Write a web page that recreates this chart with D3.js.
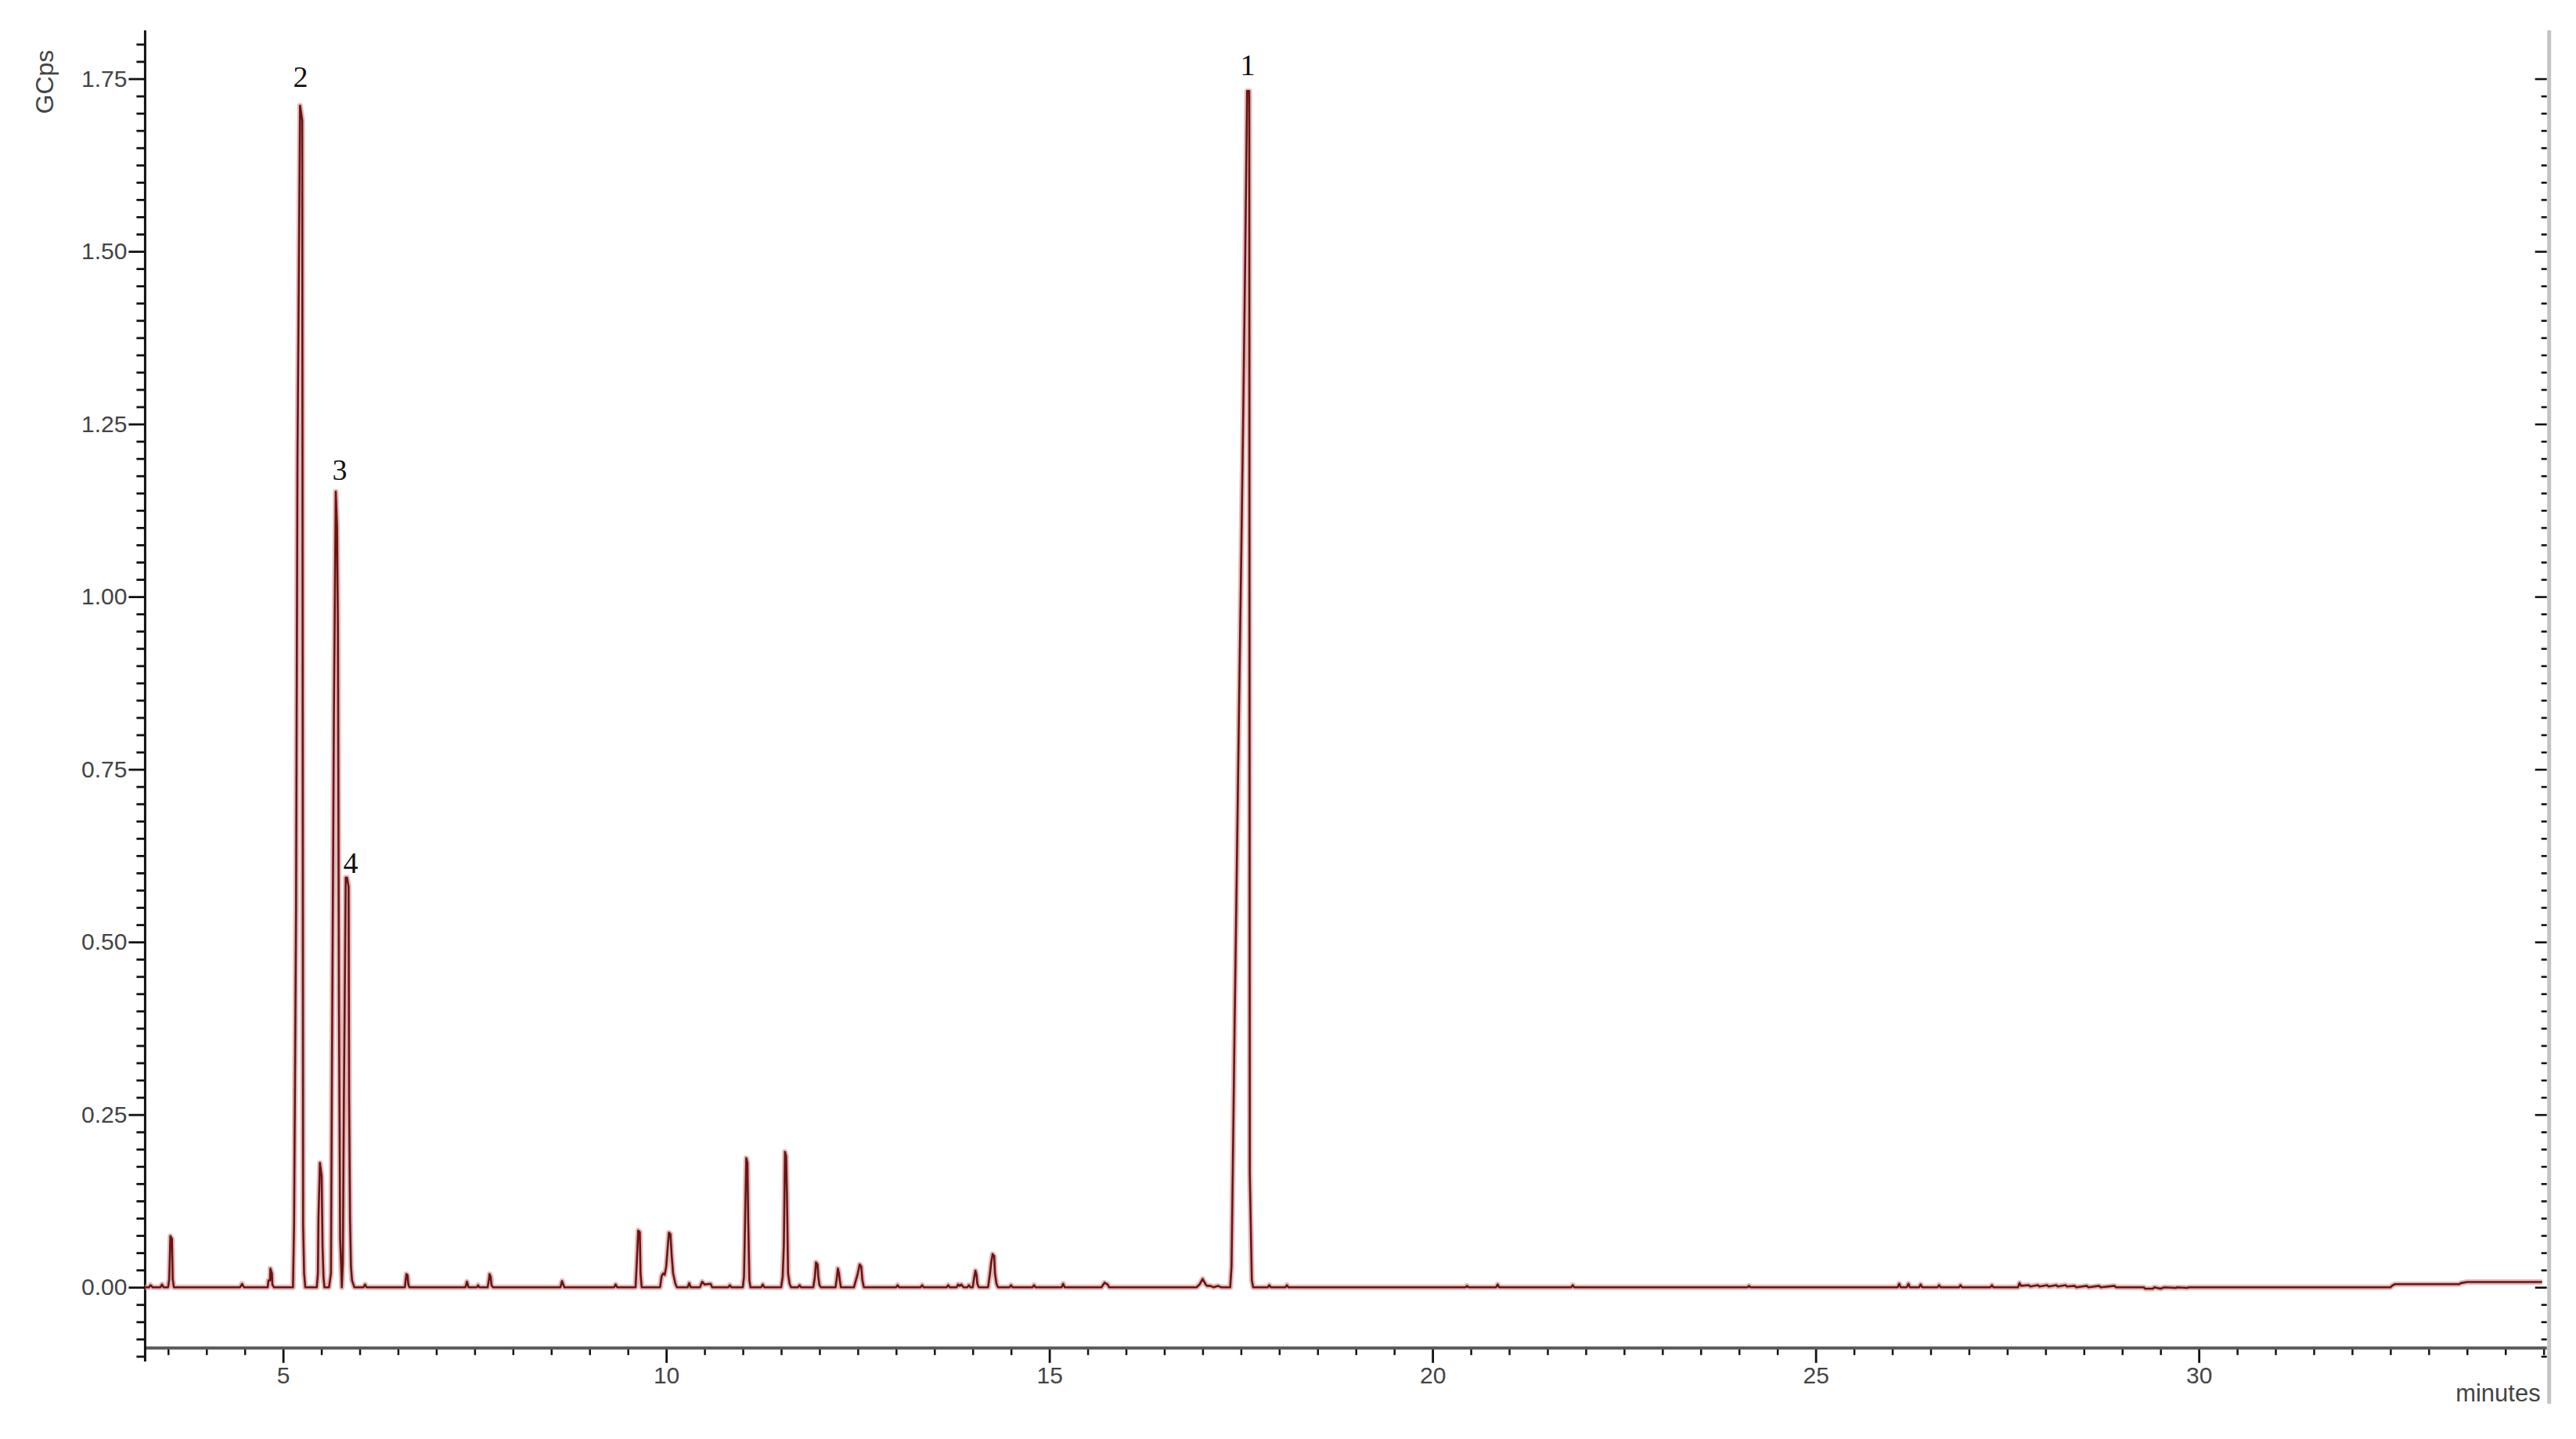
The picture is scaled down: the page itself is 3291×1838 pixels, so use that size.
<!DOCTYPE html>
<html>
<head>
<meta charset="utf-8">
<script src="https://cdn.jsdelivr.net/npm/d3@7"></script>
<style>
  html, body { margin: 0; padding: 0; background: #fff; }
  svg { display: block; }
</style>
</head>
<body>
<svg id="chart" width="3291" height="1838"></svg>
<script>
// ---------------- data ----------------
// retention time, minutes
const timeMin = [
  3.20, 3.25, 3.27, 3.30, 3.40, 3.42, 3.44,
  3.50, 3.515, 3.53, 3.55, 3.56, 3.575,
  4.44, 4.465, 4.49,
  4.80, 4.81, 4.83, 4.835, 4.855, 4.86, 4.88,
  5.13, 5.144, 5.170, 5.188, 5.222, 5.250, 5.262, 5.275, 5.29,
  5.44, 5.455, 5.462, 5.481, 5.504, 5.515, 5.528, 5.54,
  5.60, 5.625, 5.637, 5.664, 5.688, 5.705, 5.716, 5.730, 5.745, 5.755, 5.767,
  5.780, 5.794, 5.818, 5.835, 5.855, 5.862, 5.874, 5.886, 5.90, 5.93,
  6.05, 6.07, 6.09,
  6.59, 6.60, 6.61, 6.625, 6.635, 6.65,
  7.38, 7.40, 7.42, 7.53, 7.545, 7.56,
  7.67, 7.685, 7.695, 7.71, 7.72, 7.74,
  8.62, 8.64, 8.66, 8.67,
  9.32, 9.34, 9.36,
  9.60, 9.615, 9.635, 9.655, 9.665, 9.68,
  9.92, 9.94, 9.96, 9.98, 10.00, 10.035, 10.055, 10.07, 10.09, 10.12, 10.14,
  10.28, 10.30, 10.32, 10.44, 10.47, 10.50, 10.58, 10.60, 10.81, 10.83, 10.85,
  11.00, 11.015, 11.03, 11.045, 11.06, 11.07, 11.085, 11.10,
  11.24, 11.26, 11.28,
  11.50, 11.52, 11.535, 11.55, 11.565, 11.575, 11.59, 11.61, 11.63,
  11.72, 11.74, 11.76,
  11.92, 11.94, 11.955, 11.975, 11.985, 12.00, 12.02,
  12.21, 12.225, 12.24, 12.255, 12.265, 12.28,
  12.45, 12.47, 12.50, 12.525, 12.545, 12.56, 12.58,
  13.00, 13.02, 13.04, 13.32, 13.34, 13.36, 13.66, 13.68, 13.70,
  13.79, 13.81, 13.83, 13.85, 13.88, 13.93, 13.95, 13.97,
  14.00, 14.02, 14.035, 14.05, 14.06, 14.08,
  14.20, 14.225, 14.24, 14.26, 14.28, 14.29, 14.31, 14.33,
  14.48, 14.50, 14.52, 14.78, 14.80, 14.82,
  15.16, 15.18, 15.20,
  15.68, 15.72, 15.76, 15.78,
  16.92, 16.96, 17.00, 17.04, 17.06, 17.10, 17.14, 17.20, 17.24,
  17.36, 17.377, 17.394, 17.418, 17.445, 17.473, 17.503, 17.530, 17.554, 17.581, 17.608, 17.615, 17.642, 17.66,
  17.85, 17.87, 17.89, 18.08, 18.10, 18.12,
  20.43, 20.45, 20.47, 20.83, 20.85, 20.87, 21.81, 21.83, 21.85,
  24.11, 24.13, 24.15,
  26.07, 26.09, 26.11, 26.19, 26.21, 26.23, 26.35, 26.37, 26.39,
  26.59, 26.61, 26.63, 26.87, 26.89, 26.91, 27.28, 27.30, 27.32,
  27.64, 27.66, 27.68, 27.78, 27.80, 27.90, 27.92, 28.02, 28.04, 28.14, 28.16,
  28.26, 28.28, 28.38, 28.40, 28.54, 28.56, 28.70, 28.72, 28.90, 28.92,
  29.28, 29.30, 29.40, 29.42, 29.50, 29.55, 29.70, 29.72, 29.85, 29.87, 30.00,
  32.50, 32.52, 32.56, 33.40, 33.42, 33.50, 34.48
];
// detector signal, GCps
const signal = [
  0.000, 0.000, 0.003, 0.000, 0.000, 0.004, 0.000,
  0.000, 0.012, 0.074, 0.070, 0.012, 0.000,
  0.000, 0.005, 0.000,
  0.000, 0.010, 0.010, 0.027, 0.020, 0.004, 0.000,
  0.000, 0.094, 0.550, 1.198, 1.711, 1.690, 0.090, 0.020, 0.000,
  0.000, 0.020, 0.100, 0.180, 0.161, 0.060, 0.014, 0.000,
  0.000, 0.020, 0.292, 0.837, 1.152, 1.100, 0.948, 0.400, 0.070, 0.040, 0.000,
  0.035, 0.274, 0.593, 0.593, 0.580, 0.274, 0.100, 0.030, 0.010, 0.000,
  0.000, 0.004, 0.000,
  0.000, 0.010, 0.019, 0.017, 0.004, 0.000,
  0.000, 0.008, 0.000, 0.000, 0.003, 0.000,
  0.000, 0.010, 0.019, 0.015, 0.003, 0.000,
  0.000, 0.009, 0.003, 0.000,
  0.000, 0.004, 0.000,
  0.000, 0.033, 0.082, 0.080, 0.020, 0.000,
  0.000, 0.016, 0.020, 0.018, 0.030, 0.079, 0.077, 0.048, 0.020, 0.005, 0.000,
  0.000, 0.006, 0.000, 0.000, 0.008, 0.004, 0.005, 0.000, 0.000, 0.003, 0.000,
  0.000, 0.015, 0.100, 0.187, 0.180, 0.097, 0.010, 0.000,
  0.000, 0.004, 0.000,
  0.000, 0.015, 0.060, 0.196, 0.190, 0.139, 0.020, 0.005, 0.000,
  0.000, 0.003, 0.000,
  0.000, 0.015, 0.036, 0.033, 0.015, 0.003, 0.000,
  0.000, 0.012, 0.027, 0.020, 0.010, 0.000,
  0.000, 0.008, 0.020, 0.033, 0.030, 0.010, 0.000,
  0.000, 0.003, 0.000, 0.000, 0.003, 0.000, 0.000, 0.003, 0.000,
  0.000, 0.004, 0.002, 0.004, 0.000, 0.000, 0.003, 0.000,
  0.000, 0.015, 0.024, 0.018, 0.005, 0.000,
  0.000, 0.020, 0.035, 0.048, 0.045, 0.020, 0.005, 0.000,
  0.000, 0.003, 0.000, 0.000, 0.003, 0.000,
  0.000, 0.005, 0.000,
  0.000, 0.0065, 0.004, 0.000,
  0.000, 0.004, 0.012, 0.004, 0.002, 0.002, 0.000, 0.002, 0.000,
  0.000, 0.030, 0.172, 0.387, 0.597, 0.824, 1.051, 1.266, 1.476, 1.732, 1.732, 0.166, 0.010, 0.000,
  0.000, 0.003, 0.000, 0.000, 0.003, 0.000,
  0.000, 0.002, 0.000, 0.000, 0.004, 0.000, 0.000, 0.003, 0.000,
  0.000, 0.002, 0.000,
  0.000, 0.005, 0.000, 0.000, 0.005, 0.000, 0.000, 0.004, 0.000,
  0.000, 0.003, 0.000, 0.000, 0.003, 0.000, 0.000, 0.003, 0.000,
  0.000, 0.006, 0.002, 0.003, 0.001, 0.003, 0.001, 0.003, 0.001, 0.003, 0.001,
  0.003, 0.001, 0.002, 0.000, 0.002, 0.000, 0.002, 0.000, 0.002, 0.000,
  0.000, -0.002, -0.002, 0.000, -0.002, 0.000, -0.001, 0.000, -0.001, 0.000, 0.000,
  0.000, 0.002, 0.0045, 0.0045, 0.006, 0.0075, 0.0075
];

// axes
const xDomain = [3.2, 34.5];
const yDomain = [-0.1075, 1.82];
const xAxisLevel = -0.088;          // GCps level where the time axis sits
const xMajorTicks = [5, 10, 15, 20, 25, 30];
const yMajorTicks = [0, 0.25, 0.5, 0.75, 1.0, 1.25, 1.5, 1.75];
const yTickLabels = ["0.00", "0.25", "0.50", "0.75", "1.00", "1.25", "1.50", "1.75"];
const xMinorStep = 0.5;
const yMinorStep = 0.025;
const yAxisTitle = "GCps";
const xAxisTitle = "minutes";

// peak annotations
const peakNames = ["1", "2", "3", "4"];
const peakLabelTime = [17.588, 5.228, 5.739, 5.882];
const peakLabelLevel = [1.755, 1.738, 1.169, 0.600];

// ---------------- drawing ----------------
const svg = d3.select("#chart");
const sansFont = "'Liberation Sans', Arial, Helvetica, sans-serif";
const serifFont = "'Liberation Serif', 'Times New Roman', serif";

const x = d3.scaleLinear().domain(xDomain).range([185.4, 3249.7]);
const y = d3.scaleLinear().domain(yDomain).range([1739, 38.8]);

const range = (a, b, step) => d3.range(Math.round(a / step), Math.round(b / step) + 1).map(k => +(k * step).toFixed(4));
const xMinor = range(3.5, 34.5, xMinorStep).filter(v => !xMajorTicks.includes(v));
const yMinorAll = range(-0.1, 1.8, yMinorStep).filter(v => !yMajorTicks.some(m => Math.abs(m - v) < 1e-6));

const yAx = y(xAxisLevel);

// --- x axis ---
const gx = svg.append("g").attr("transform", `translate(0,${yAx})`);
gx.append("g")
  .call(d3.axisBottom(x).tickValues(xMinor).tickSize(9).tickFormat(""))
  .call(g => g.select(".domain").remove())
  .call(g => g.selectAll("line").attr("stroke", "#111").attr("stroke-width", 2.5));
gx.append("g")
  .call(d3.axisBottom(x).tickValues(xMajorTicks).tickSize(19).tickPadding(5).tickFormat(d3.format("d")))
  .call(g => g.select(".domain").remove())
  .call(g => g.selectAll("line").attr("stroke", "#111").attr("stroke-width", 2.8))
  .call(g => g.selectAll("text").attr("font-family", sansFont).attr("font-size", 30).attr("fill", "#444"));
gx.append("line")
  .attr("x1", x(xDomain[0])).attr("x2", x(xDomain[1]) + 4)
  .attr("y1", 0).attr("y2", 0)
  .attr("stroke", "#5a5a5a").attr("stroke-width", 4);

// --- y axis ---
const gy = svg.append("g").attr("transform", `translate(${x(xDomain[0])},0)`);
gy.append("g")
  .call(d3.axisLeft(y).tickValues(yMinorAll).tickSize(11).tickFormat(""))
  .call(g => g.select(".domain").remove())
  .call(g => g.selectAll("line").attr("stroke", "#111").attr("stroke-width", 2.8));
gy.append("g")
  .call(d3.axisLeft(y).tickValues(yMajorTicks).tickSize(21).tickPadding(2)
    .tickFormat((d, i) => yTickLabels[i]))
  .call(g => g.select(".domain").remove())
  .call(g => g.selectAll("line").attr("stroke", "#111").attr("stroke-width", 2.8))
  .call(g => g.selectAll("text").attr("font-family", sansFont).attr("font-size", 30).attr("fill", "#444"));
gy.append("line")
  .attr("x1", 0).attr("x2", 0)
  .attr("y1", y(yDomain[1])).attr("y2", y(yDomain[0]))
  .attr("stroke", "#111").attr("stroke-width", 3);

// --- right frame with mirrored ticks ---
const rightX = x(xDomain[1]) + 4;
const gr = svg.append("g").attr("transform", `translate(${rightX},0)`);
gr.append("g")
  .call(d3.axisLeft(y).tickValues(yMinorAll.filter(v => v < 1.75)).tickSize(7).tickFormat(""))
  .call(g => g.select(".domain").remove())
  .call(g => g.selectAll("line").attr("stroke", "#111").attr("stroke-width", 2.6));
gr.append("g")
  .call(d3.axisLeft(y).tickValues(yMajorTicks).tickSize(15).tickFormat(""))
  .call(g => g.select(".domain").remove())
  .call(g => g.selectAll("line").attr("stroke", "#111").attr("stroke-width", 2.6));
gr.append("line")
  .attr("x1", 3).attr("x2", 3)
  .attr("y1", y(yDomain[1])).attr("y2", 1793)
  .attr("stroke", "#c4c4c4").attr("stroke-width", 5);

// --- axis titles ---
svg.append("text")
  .attr("transform", `translate(68,${y(1.75) + 4}) rotate(-90)`)
  .attr("text-anchor", "middle")
  .attr("font-family", sansFont).attr("font-size", 32).attr("fill", "#444")
  .text(yAxisTitle);
svg.append("text")
  .attr("x", x(xDomain[1]) - 4).attr("y", 1790)
  .attr("text-anchor", "end")
  .attr("font-family", sansFont).attr("font-size", 31).attr("fill", "#444")
  .text(xAxisTitle);

// --- chromatogram trace ---
const pts = timeMin.map((t, i) => [t, signal[i]]);
const line = d3.line().x(d => x(d[0])).y(d => y(d[1])).curve(d3.curveLinear);
svg.append("path").datum(pts)
  .attr("d", line).attr("fill", "none")
  .attr("stroke", "#d9a3a3").attr("stroke-width", 7).attr("stroke-linejoin", "round").attr("opacity", 0.75);
svg.append("path").datum(pts)
  .attr("d", line).attr("fill", "none")
  .attr("stroke", "#6a1414").attr("stroke-width", 2.6).attr("stroke-linejoin", "round");

// --- peak labels ---
svg.append("g").selectAll("text")
  .data(peakNames)
  .join("text")
  .attr("x", (d, i) => x(peakLabelTime[i]))
  .attr("y", (d, i) => y(peakLabelLevel[i]))
  .attr("text-anchor", "middle")
  .attr("font-family", serifFont).attr("font-size", 38).attr("fill", "#111")
  .text(d => d);
</script>
</body>
</html>
